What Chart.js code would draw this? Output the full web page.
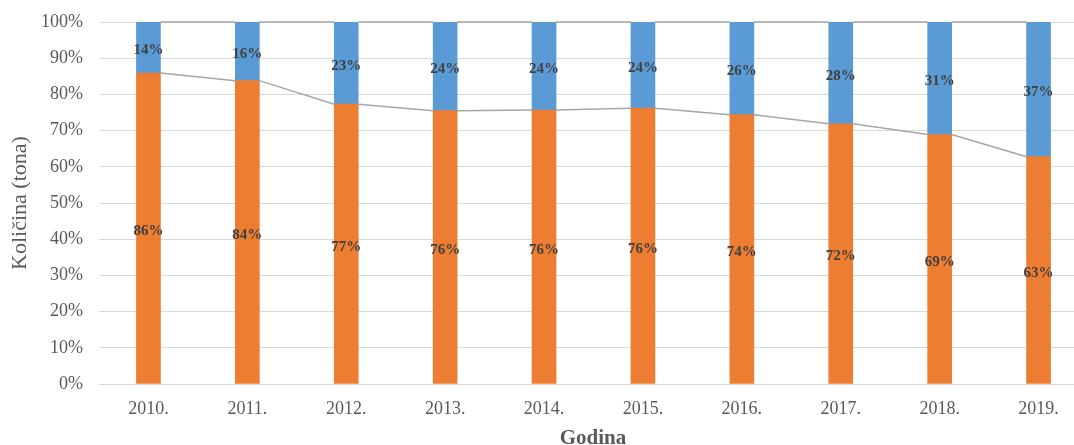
<!DOCTYPE html>
<html>
<head>
<meta charset="utf-8">
<script src="https://cdn.jsdelivr.net/npm/chart.js@4.4.1/dist/chart.umd.min.js"></script>
<style>
    html, body { margin: 0; padding: 0; background: #fff; overflow: hidden; width: 1074px; height: 445px; }
    #wrap { position: relative; width: 1088px; height: 445px; }
    #xTitle {
        position: absolute; left: 543px; top: 425px; width: 100px; line-height: 24px;
        text-align: center; font: bold 21px "Liberation Serif", serif; color: #595959;
    }
</style>
</head>
<body>
<div id="wrap">
    <canvas id="chart"></canvas>
    <div id="xTitle">Godina</div>
</div>
<script>
// --- Dados ---
const years = ['2010.', '2011.', '2012.', '2013.', '2014.', '2015.', '2016.', '2017.', '2018.', '2019.'];
const orangeShare = [85.9, 83.8, 77.3, 75.5, 75.7, 76.2, 74.4, 71.9, 68.9, 62.8];
const blueShare = [14.1, 16.2, 22.7, 24.5, 24.3, 23.8, 25.6, 28.1, 31.1, 37.2];
const orangeLabels = ['86%', '84%', '77%', '76%', '76%', '76%', '74%', '72%', '69%', '63%'];
const blueLabels = ['14%', '16%', '23%', '24%', '24%', '24%', '26%', '28%', '31%', '37%'];

// linhas de série (estilo Excel): liga o topo de cada barra ao topo da seguinte
const seriesLines = {
    id: 'seriesLines',
    afterDatasetsDraw(chart) {
        const ctx = chart.ctx;
        ctx.save();
        ctx.strokeStyle = '#A6A6A6';
        ctx.lineWidth = 1.5;
        chart.data.datasets.forEach((ds, i) => {
            const bars = chart.getDatasetMeta(i).data;
            ctx.beginPath();
            for (let k = 0; k < bars.length - 1; k++) {
                const a = bars[k], b = bars[k + 1];
                ctx.moveTo(a.x + a.width / 2, a.y);
                ctx.lineTo(b.x - b.width / 2, b.y);
            }
            ctx.stroke();
        });
        ctx.restore();
    }
};

// rótulos no meio de cada segmento
const segmentLabels = {
    id: 'segmentLabels',
    afterDatasetsDraw(chart) {
        const ctx = chart.ctx;
        ctx.save();
        ctx.font = 'bold 15px "Liberation Serif"';
        ctx.fillStyle = '#404040';
        ctx.textAlign = 'center';
        ctx.textBaseline = 'middle';
        chart.data.datasets.forEach((ds, i) => {
            chart.getDatasetMeta(i).data.forEach((bar, k) => {
                ctx.fillText(ds.segmentText[k], bar.x, (bar.y + bar.base) / 2 + 3);
            });
        });
        ctx.restore();
    }
};

const tickFont = { family: '"Liberation Serif"', size: 18 };

new Chart(document.getElementById('chart'), {
    type: 'bar',
    data: {
        labels: years,
        datasets: [
            { label: 'A', data: orangeShare, segmentText: orangeLabels, backgroundColor: '#ED7D31', barThickness: 24 },
            { label: 'B', data: blueShare, segmentText: blueLabels, backgroundColor: '#5B9BD5', barThickness: 24 }
        ]
    },
    options: {
        responsive: true,
        maintainAspectRatio: false,
        animation: false,
        layout: { padding: { top: 22, left: 0, right: 0, bottom: 0 } },
        plugins: { legend: { display: false }, tooltip: { enabled: false } },
        scales: {
            x: {
                stacked: true,
                grid: { display: false, drawTicks: false },
                border: { display: true, color: '#D9D9D9', width: 1 },
                ticks: { color: '#595959', font: tickFont, padding: 14 },
                afterFit: (scale) => { scale.height = 61; }
            },
            y: {
                stacked: true,
                min: 0, max: 100,
                grid: { color: '#D9D9D9', lineWidth: 1, drawTicks: false },
                border: { display: false },
                ticks: { stepSize: 10, color: '#595959', font: tickFont, padding: 16, callback: v => v + '%' },
                title: { display: true, text: 'Količina (tona)', color: '#595959', font: { family: '"Liberation Serif"', size: 22 }, padding: { top: 7, bottom: 0 } },
                afterFit: (scale) => {
                    scale.width = 99;
                    scale.paddingTop = 0;
                    scale.paddingBottom = 0;
                }
            }
        }
    },
    plugins: [seriesLines, segmentLabels]
});
</script>
</body>
</html>
